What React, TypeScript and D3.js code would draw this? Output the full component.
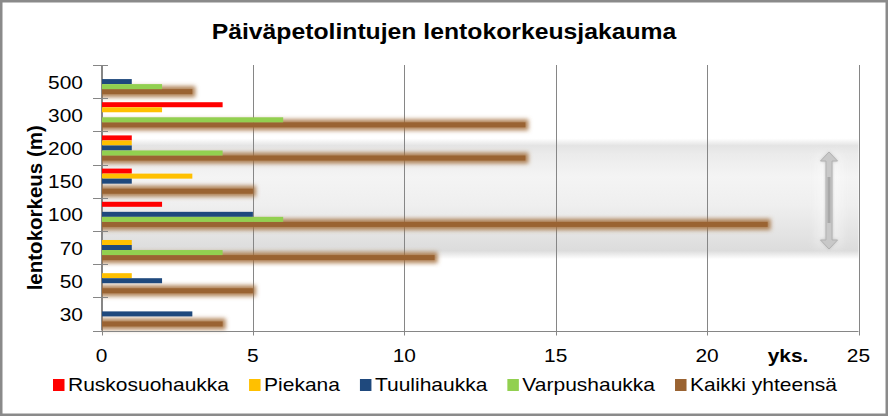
import React from 'react';
import * as d3 from 'd3';

const categories = ['500', '300', '200', '150', '100', '70', '50', '30'];
const seriesNames = ['Ruskosuohaukka', 'Piekana', 'Tuulihaukka', 'Varpushaukka', 'Kaikki yhteensä'];
const ruskosuohaukka = [0, 4, 1, 1, 2, 0, 0, 0];
const piekana = [0, 2, 1, 3, 0, 1, 1, 0];
const tuulihaukka = [1, 0, 1, 1, 5, 1, 2, 3];
const varpushaukka = [2, 6, 4, 0, 6, 4, 0, 0];
const kaikkiYhteensa = [3, 14, 14, 5, 22, 11, 5, 4];
const xTicks = [0, 5, 10, 15, 20, 25];
const seriesColors = ['#FF0000', '#FFC000', '#1F497D', '#92D050', '#9A6332'];
const title = 'Päiväpetolintujen lentokorkeusjakauma';
const yTitle = 'lentokorkeus (m)';
const xUnit = 'yks.';

const W = 888;
const H = 416;
const FONT = '"Liberation Sans", Arial, sans-serif';
const SX = 1.1;

const seriesValues = [ruskosuohaukka, piekana, tuulihaukka, varpushaukka, kaikkiYhteensa];

function measure(text: string, size: number, bold = false): number {
  try {
    const c = document.createElement('canvas').getContext('2d');
    if (c) {
      c.font = `${bold ? 'bold ' : ''}${size}px "Liberation Sans", Arial, sans-serif`;
      return c.measureText(text).width;
    }
  } catch (e) {}
  return text.length * size * 0.55;
}

const T = ({ x, y, anchor = 'start', size = 19, bold = false, fill = '#000', children }: any) => (
  <text
    transform={`translate(${x},${y}) scale(${SX},1)`}
    textAnchor={anchor}
    fontSize={size}
    fontWeight={bold ? 'bold' : 'normal'}
    fontFamily={FONT}
    fill={fill}
  >
    {children}
  </text>
);

export default function App() {
  const left = 101.5, right = 858.5, top = 65, bottom = 330.5;
  const x = d3.scaleLinear().domain([0, 25]).range([left, right]);
  const y = d3.scaleBand<string>().domain(categories).range([top, bottom]).padding(0);
  const inner = d3.scaleBand<string>().domain(seriesNames).range([0, y.bandwidth()]).paddingOuter(0.8).paddingInner(0);
  const bh = inner.bandwidth();

  const bandTop = (y('200') as number) + 7;
  const bandBot = (y('70') as number) + y.bandwidth() - 5;

  const legSize = 19;
  const legStretch = 1.105;
  let lx = 53;
  const legendItems = seriesNames.map((name, i) => {
    const w = measure(name, legSize) * legStretch;
    const item = { name, color: seriesColors[i], sx: lx, tx: lx + 15, w };
    lx = lx + 15 + w + 20;
    return item;
  });

  const gridColor = '#868686';
  const arrowX = 829;
  const aTop = 152, aBot = 249;

  const brownIdx = 4;

  return (
    <svg width={W} height={H} style={{ position: 'fixed', left: 0, top: 0, background: '#fff' }}>
      <defs>
        <linearGradient id="bandGrad" x1="0" y1="0" x2="0" y2="1">
          <stop offset="0" stopColor="#ffffff" />
          <stop offset="0.06" stopColor="#e4e4e4" />
          <stop offset="0.13" stopColor="#ebebeb" />
          <stop offset="0.32" stopColor="#f4f4f4" />
          <stop offset="0.55" stopColor="#efefef" />
          <stop offset="0.8" stopColor="#e3e3e3" />
          <stop offset="0.93" stopColor="#dcdcdc" />
          <stop offset="1" stopColor="#ffffff" />
        </linearGradient>
        <clipPath id="plotClip">
          <rect x={left} y={top - 10} width={right - left + 10} height={bottom - top + 20} />
        </clipPath>
        <filter id="soft" filterUnits="userSpaceOnUse" x="780" y="120" width="100" height="160">
          <feGaussianBlur stdDeviation="4" />
        </filter>
        <filter id="glow" filterUnits="userSpaceOnUse" x="0" y="0" width={W} height={H}>
          <feMorphology in="SourceAlpha" operator="dilate" radius="2.5" result="d" />
          <feGaussianBlur in="d" stdDeviation="2" result="b" />
          <feFlood floodColor="#a26c38" floodOpacity="0.85" />
          <feComposite in2="b" operator="in" result="g" />
          <feMerge>
            <feMergeNode in="g" />
            <feMergeNode in="SourceGraphic" />
          </feMerge>
        </filter>
        <filter id="arrowShadow" filterUnits="userSpaceOnUse" x="0" y="0" width={W} height={H}>
          <feGaussianBlur in="SourceAlpha" stdDeviation="1.5" result="b" />
          <feFlood floodColor="#999" floodOpacity="0.5" />
          <feComposite in2="b" operator="in" result="s" />
          <feMerge>
            <feMergeNode in="s" />
            <feMergeNode in="SourceGraphic" />
          </feMerge>
        </filter>
      </defs>

      <rect x={1.25} y={1.25} width={W - 2.5} height={H - 2.5} fill="#fff" stroke="#8a8a8a" strokeWidth={2.5} />

      <T x={W / 2} y={39} anchor="middle" size={22.5} bold>{title}</T>

      <rect x={left} y={bandTop} width={right - left} height={bandBot - bandTop} fill="url(#bandGrad)" />
      <rect x={arrowX - 13} y={aTop + 2} width={26} height={aBot - aTop - 4} fill="#ffffff" opacity={0.35} filter="url(#soft)" />

      {xTicks.map((t) => (
        <line key={'g' + t} x1={Math.round(x(t)) + 0.5} x2={Math.round(x(t)) + 0.5} y1={top} y2={bottom + 5} stroke={gridColor} strokeWidth={1} />
      ))}

      <g clipPath="url(#plotClip)">
        {categories.map((c, ci) => (
          <rect
            key={'k' + c}
            x={x(0)}
            y={(y(c) as number) + (inner(seriesNames[brownIdx]) as number)}
            width={x(seriesValues[brownIdx][ci]) - x(0)}
            height={bh}
            fill={seriesColors[brownIdx]}
            filter="url(#glow)"
          />
        ))}
      </g>

      {seriesNames.slice(0, 4).map((s, si) =>
        categories.map((c, ci) =>
          seriesValues[si][ci] > 0 ? (
            <rect
              key={s + c}
              x={x(0)}
              y={(y(c) as number) + (inner(s) as number)}
              width={x(seriesValues[si][ci]) - x(0)}
              height={bh}
              fill={seriesColors[si]}
            />
          ) : null
        )
      )}

      <line x1={left} x2={left} y1={top} y2={bottom} stroke={gridColor} strokeWidth={1} />
      <line x1={left} x2={right} y1={Math.round(bottom) + 0.5} y2={Math.round(bottom) + 0.5} stroke={gridColor} strokeWidth={1} />
      {categories.concat(['__end']).map((c, i) => {
        const yy = i < categories.length ? (y(c) as number) : bottom;
        return <line key={'yt' + i} x1={93} x2={108} y1={Math.round(yy) + 0.5} y2={Math.round(yy) + 0.5} stroke={gridColor} strokeWidth={1} />;
      })}

      {categories.map((c) => (
        <T key={'yl' + c} x={83} y={(y(c) as number) + y.bandwidth() / 2 + 7} anchor="end" size={19}>{c}</T>
      ))}

      {xTicks.map((t) => (
        <T key={'xl' + t} x={x(t)} y={362} anchor="middle" size={19}>{t}</T>
      ))}
      <T x={788} y={362} anchor="middle" size={19} bold>{xUnit}</T>

      <text
        transform={`translate(42,${(top + bottom) / 2 + 10}) rotate(-90)`}
        textAnchor="middle"
        fontSize={20.5}
        fontWeight="bold"
        fontFamily={FONT}
      >
        {yTitle}
      </text>

      <g filter="url(#arrowShadow)">
        <path
          d={`M${arrowX},${aTop} L${arrowX + 8.5},${aTop + 9} L${arrowX + 3},${aTop + 9} L${arrowX + 3},${aBot - 9} L${arrowX + 8.5},${aBot - 9} L${arrowX},${aBot} L${arrowX - 8.5},${aBot - 9} L${arrowX - 3},${aBot - 9} L${arrowX - 3},${aTop + 9} L${arrowX - 8.5},${aTop + 9} Z`}
          fill="#c8c8c8"
          stroke="#b2b2b2"
          strokeWidth={1}
        />
      </g>
      <rect x={arrowX - 1.5} y={177} width={3} height={46} fill="#a8a8a8" />

      {legendItems.map((it) => (
        <g key={'lg' + it.name}>
          <rect x={it.sx} y={379} width={11.5} height={12} fill={it.color} />
          <text
            transform={`translate(${it.tx},391) scale(${legStretch},1)`}
            fontSize={legSize}
            fontFamily={FONT}
          >
            {it.name}
          </text>
        </g>
      ))}
    </svg>
  );
}
